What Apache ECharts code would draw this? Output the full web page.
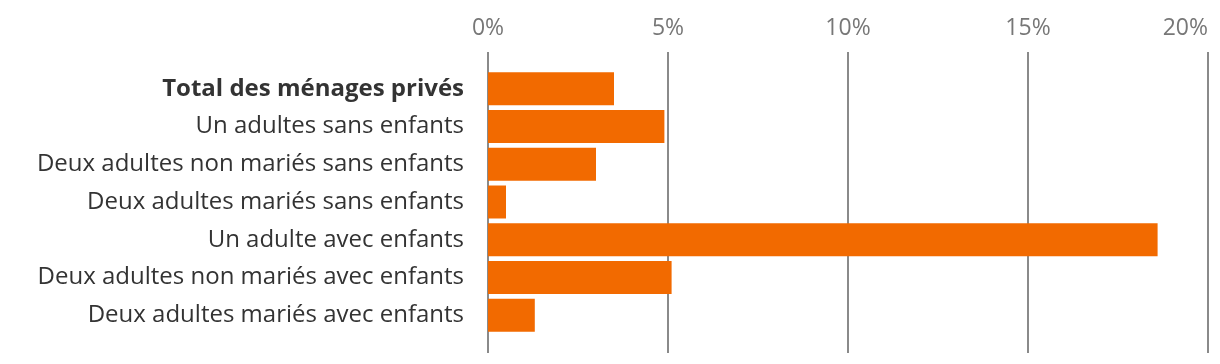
<!DOCTYPE html>
<html><head><meta charset="utf-8">
<script src="https://cdn.jsdelivr.net/npm/echarts@6/dist/echarts.min.js"></script>
<style>html,body{margin:0;padding:0;background:#fff;overflow:hidden}#c{width:1220px;height:364px}</style>
</head><body><div id="c"></div>
<script>
const categories = [
  "Total des ménages privés",
  "Un adultes sans enfants",
  "Deux adultes non mariés sans enfants",
  "Deux adultes mariés sans enfants",
  "Un adulte avec enfants",
  "Deux adultes non mariés avec enfants",
  "Deux adultes mariés avec enfants"
];
const values = [3.5, 4.9, 3.0, 0.5, 18.6, 5.1, 1.3];
const xTicks = [0, 5, 10, 15, 20];

const chart = echarts.init(document.getElementById('c'), null, {renderer: 'canvas', width: 1220, height: 364});
const font = '"Open Sans", "Noto Sans", sans-serif';
chart.setOption({
  animation: false,
  grid: [
    {left: 488, right: 12, top: 52, bottom: 11},
    {left: 488, right: 12, top: 70, bottom: 30}
  ],
  xAxis: [
    {gridIndex: 0, type: 'value', position: 'top', min: xTicks[0], max: xTicks[xTicks.length-1], interval: 5,
     axisLine: {show: false}, axisTick: {show: false},
     splitLine: {show: true, lineStyle: {color: '#8a8a8a', width: 2}},
     axisLabel: {formatter: '{value}%', color: '#777', fontSize: 23, fontFamily: font, margin: 12, alignMaxLabel: 'right'}},
    {gridIndex: 1, type: 'value', min: xTicks[0], max: xTicks[xTicks.length-1], interval: 5, show: false}
  ],
  yAxis: [
    {gridIndex: 0, type: 'value', show: false, min: 0, max: 1},
    {gridIndex: 1, type: 'category', data: categories, inverse: true,
     axisLine: {show: false}, axisTick: {show: false}, splitLine: {show: false},
     axisLabel: {color: '#333', fontSize: 24, fontFamily: font, margin: 24,
       formatter: (v, i) => i === 0 ? '{b|' + v + '}' : v,
       rich: {b: {fontWeight: 'bold', fontSize: 24, fontFamily: font, color: '#333'}}}}
  ],
  series: [{
    type: 'bar', xAxisIndex: 1, yAxisIndex: 1, data: values,
    barWidth: 33, itemStyle: {color: '#f26a00'}
  }]
});
</script></body></html>
